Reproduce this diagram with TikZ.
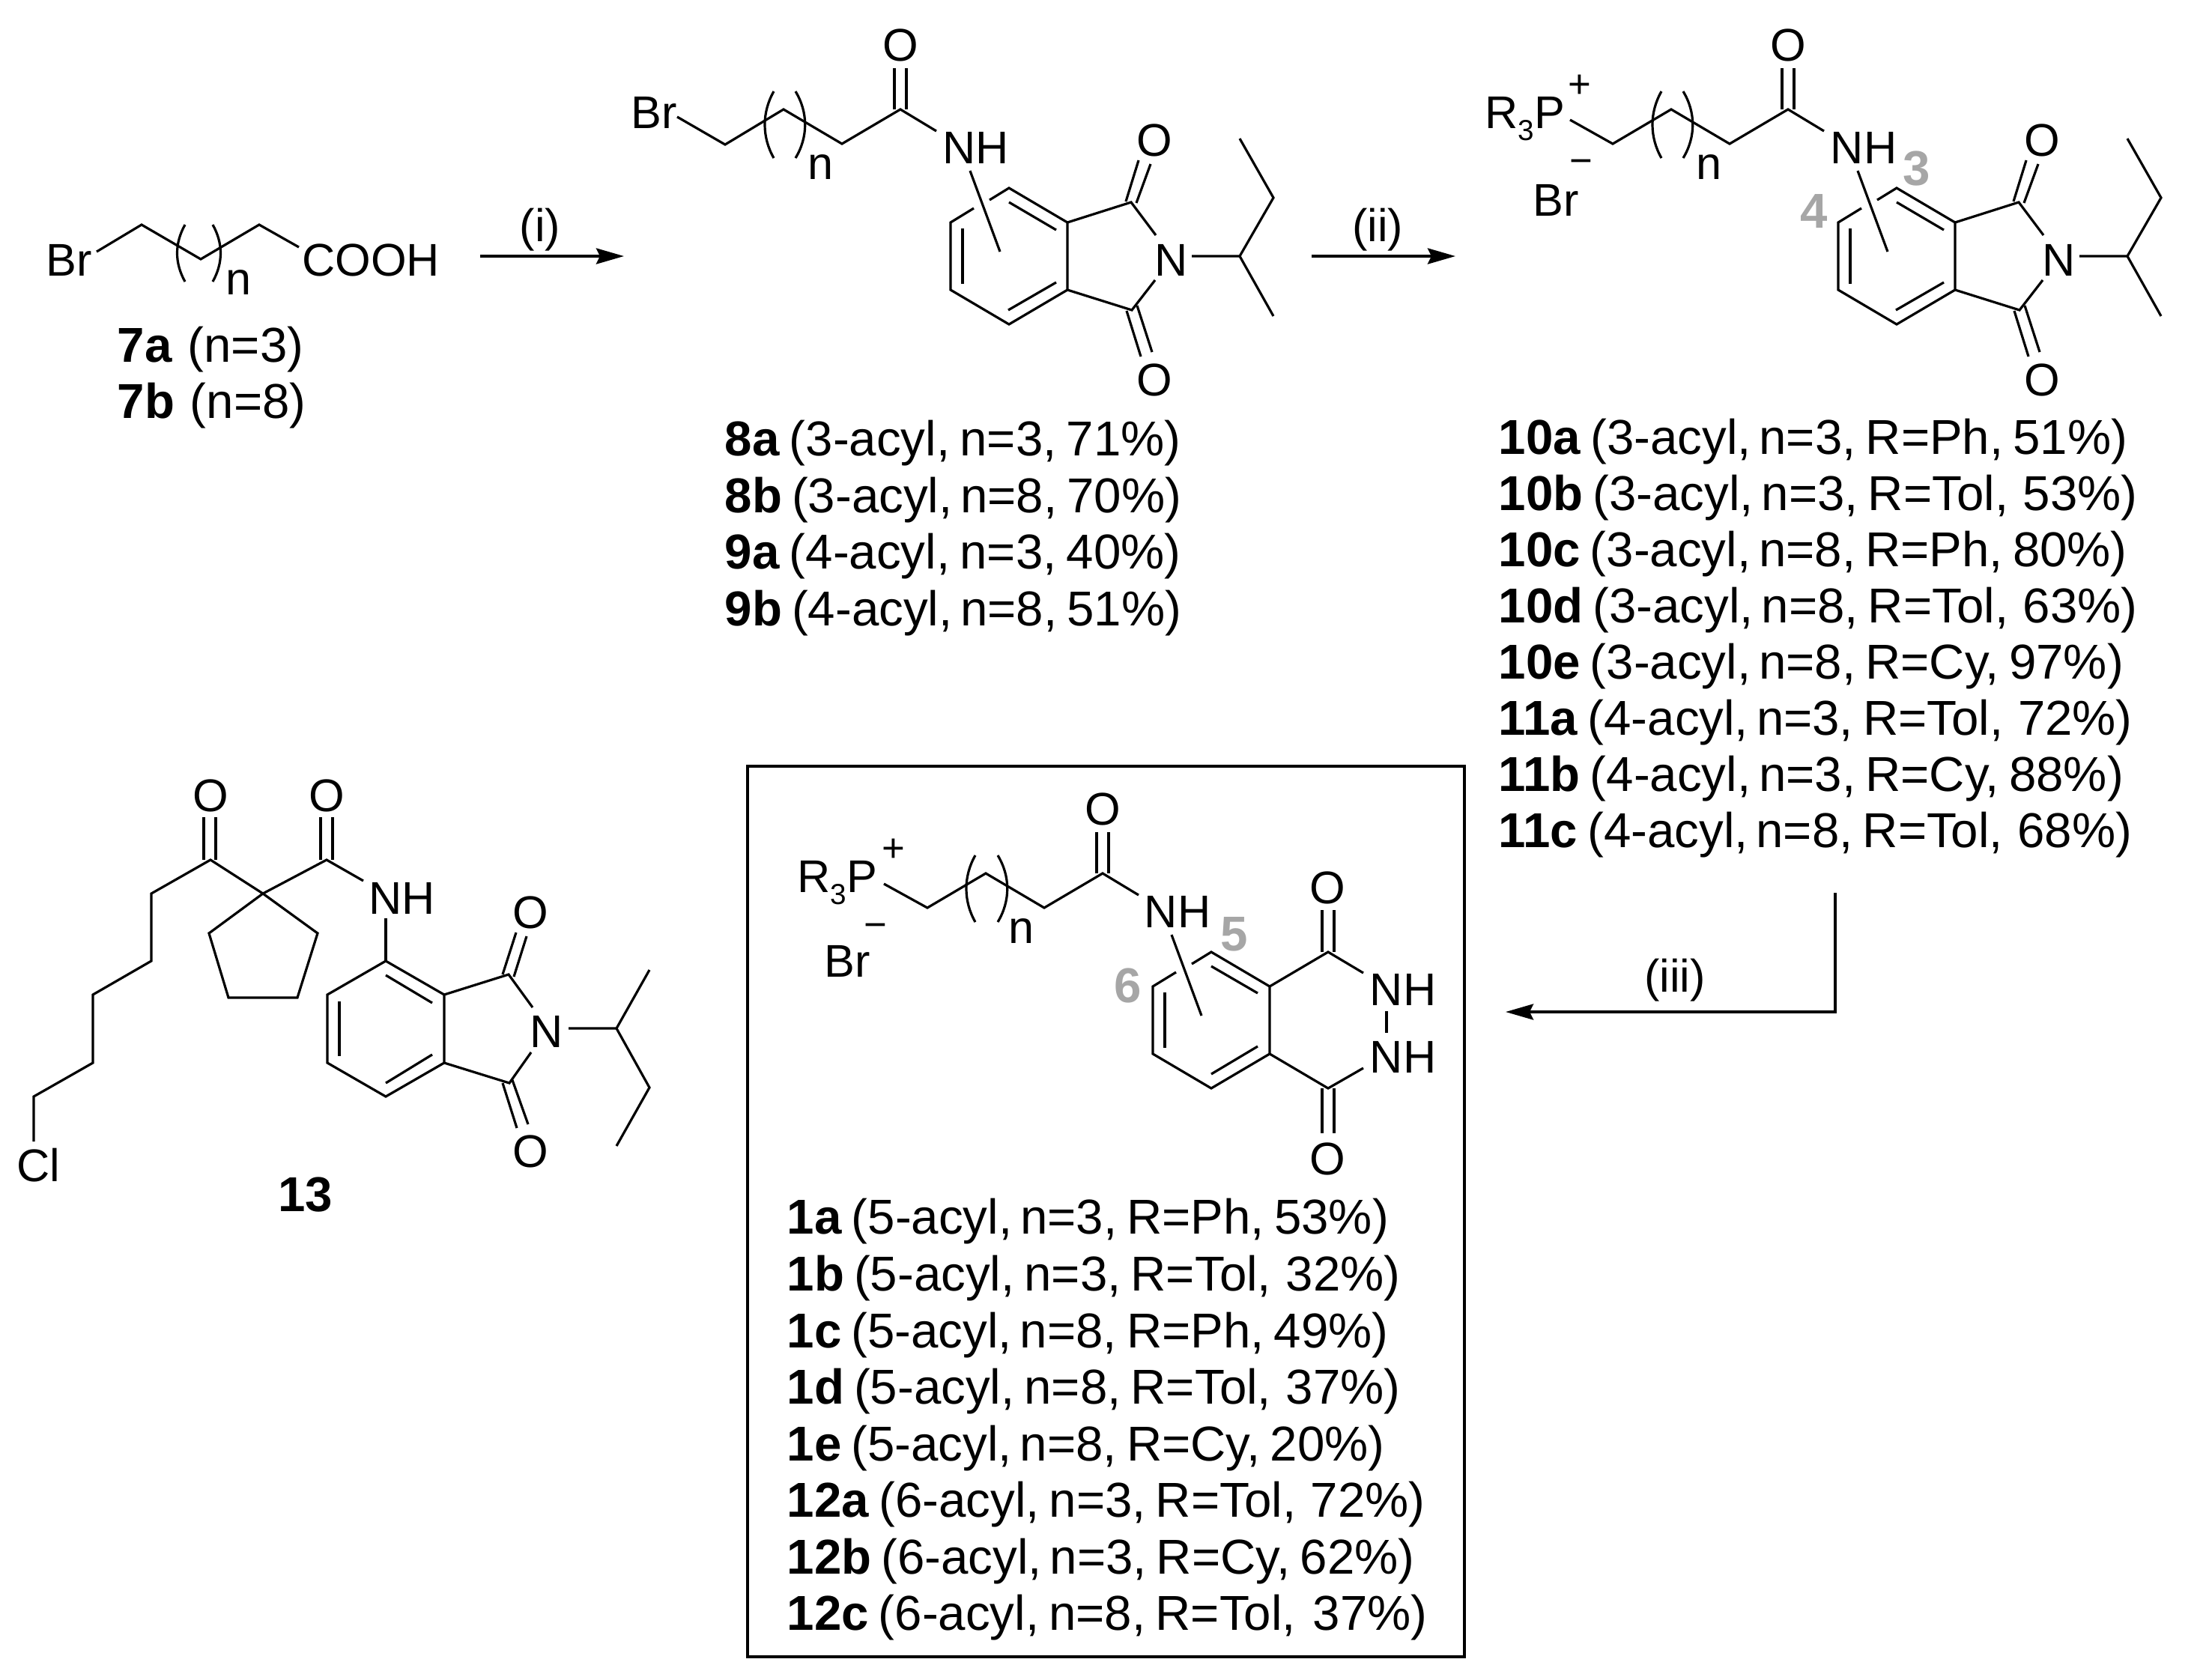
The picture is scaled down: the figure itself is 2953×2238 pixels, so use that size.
\documentclass[tikz,border=0pt]{standalone}
\usepackage{fontspec}
\setmainfont{Liberation Sans}
\usetikzlibrary{arrows.meta}
\usepackage{xcolor}
\definecolor{posgrey}{HTML}{A6A6A6}
\newcommand{\atomfont}{\fontsize{17.4}{19}\selectfont}
\newcommand{\chargefont}{\fontsize{15}{17}\selectfont}
\newcommand{\rowfont}{\fontsize{18.6}{21}\selectfont\spaceskip=0.2em\relax}
\newcommand{\phos}{R\raisebox{-0.16cm}{\fontsize{11}{11}\selectfont 3}P}
\tikzset{
    atom/.style={inner sep=0pt,font=\atomfont},
    charge/.style={inner sep=0pt,font=\chargefont},
    rowtext/.style={inner sep=0pt,anchor=base west,font=\rowfont},
    posnum/.style={inner sep=0pt,text=posgrey,font=\rowfont\bfseries},
    bond/.style={line width=0.032cm,line join=miter},
    rxn/.style={line width=0.04cm,-{Stealth[length=0.37cm,width=0.21cm,inset=0.05cm]}}
}

\begin{document}
\begin{tikzpicture}[x=0.01cm,y=-0.01cm]
    \useasboundingbox (0,0) rectangle (2953,2238);
    %Bromo acid
    \node[atom] (brSeven) at (92,347) {Br};
    \node[atom] (coohSeven) at (495,347) {COOH};
    \node[atom] (nSeven) at (319,377) {n};
    \draw[bond] (129,336) -- (189,300) -- (268,346) -- (346,300) -- (399,330);
    \draw[bond] (247,300) .. controls (233,325) and (233,351) .. (247,376);
    \draw[bond] (284,300) .. controls (298,325) and (298,351) .. (284,376);
    \node[rowtext] (rowSevenA) at (156,483) {\textbf{7a}\kern0.12em{} (n=3)};
    \node[rowtext] (rowSevenB) at (156,558) {\textbf{7b}\kern0.12em{} (n=8)};
    %Step i
    \coordinate (stepOneStart) at (641,342);
    \coordinate (stepOneEnd) at (833,342);
    \draw[rxn] (stepOneStart) -- (stepOneEnd);
    \node[atom,anchor=base] (stepOneText) at (721,322) {(i)};
    %Bromo amide
    \node[atom] (brEight) at (873,150) {Br};
    \node[atom] (oEightA) at (1202,60) {O};
    \node[atom] (nhEight) at (1303,197) {NH};
    \node[atom] (nEight) at (1096,223) {n};
    \node[atom] (oEightB) at (1541,187) {O};
    \node[atom] (nEightB) at (1564,347) {N};
    \node[atom] (oEightC) at (1541,507) {O};
    \draw[bond] (904,156) -- (968,193) -- (1046,146) -- (1124,192) -- (1202,146) -- (1250,175);
    \draw[bond] (1033,122) .. controls (1017,150) and (1017,183) .. (1033,211);
    \draw[bond] (1062,122) .. controls (1079,150) and (1079,183) .. (1062,211);
    \draw[bond] (1194,146) -- (1194,91);
    \draw[bond] (1210,146) -- (1210,91);
    \draw[bond] (1295,228) -- (1335,336);
    \draw[bond] (1300,278) -- (1269,297) -- (1269,387) -- (1347,433) -- (1425,387) -- (1425,297) -- (1347,251) -- (1321,267);
    \draw[bond] (1347,270) -- (1410,307);
    \draw[bond] (1285,305) -- (1285,379);
    \draw[bond] (1346,414) -- (1410,377);
    \draw[bond] (1425,297) -- (1510,270) -- (1543,314);
    \draw[bond] (1425,387) -- (1511,414) -- (1542,374);
    \draw[bond] (1503,269) -- (1520,214);
    \draw[bond] (1517,271) -- (1536,219);
    \draw[bond] (1504,415) -- (1523,476);
    \draw[bond] (1518,408) -- (1538,470);
    \draw[bond] (1591,342) -- (1655,342) -- (1700,264) -- (1655,185);
    \draw[bond] (1655,342) -- (1700,422);
    \node[rowtext] (rowEightA) at (967,608) {\textbf{8a} (3-acyl, n=3, 71\%)};
    \node[rowtext] (rowEightB) at (967,684) {\textbf{8b} (3-acyl,\,n=8, 70\%)};
    \node[rowtext] (rowNineA) at (967,759) {\textbf{9a} (4-acyl, n=3, 40\%)};
    \node[rowtext] (rowNineB) at (967,835) {\textbf{9b} (4-acyl,\,n=8, 51\%)};
    %Step ii
    \coordinate (stepTwoStart) at (1751,342);
    \coordinate (stepTwoEnd) at (1943,342);
    \draw[rxn] (stepTwoStart) -- (stepTwoEnd);
    \node[atom,anchor=base] (stepTwoText) at (1839,322) {(ii)};
    %Phosphonium salt
    \node[atom,anchor=base west] (pTen) at (1982,171) {\phos};
    \node[charge] (plusTen) at (2109,115) {+};
    \node[charge] (minusTen) at (2111,223) {−};
    \node[atom] (brTen) at (2077,267) {Br};
    \node[atom] (oTenA) at (2387,60) {O};
    \node[atom] (nhTen) at (2488,197) {NH};
    \node[atom] (nTen) at (2281,223) {n};
    \node[atom] (oTenB) at (2726,187) {O};
    \node[atom] (nTenB) at (2749,347) {N};
    \node[atom] (oTenC) at (2726,507) {O};
    \node[posnum] (posThree) at (2559,225) {3};
    \node[posnum] (posFour) at (2422,282) {4};
    \draw[bond] (2096,160) -- (2153,192) -- (2231,146) -- (2309,192) -- (2387,146) -- (2435,175);
    \draw[bond] (2218,122) .. controls (2202,150) and (2202,183) .. (2218,211);
    \draw[bond] (2247,122) .. controls (2264,150) and (2264,183) .. (2247,211);
    \draw[bond] (2379,146) -- (2379,91);
    \draw[bond] (2395,146) -- (2395,91);
    \draw[bond] (2480,228) -- (2520,336);
    \draw[bond] (2485,278) -- (2454,297) -- (2454,387) -- (2532,433) -- (2610,387) -- (2610,297) -- (2532,251) -- (2506,267);
    \draw[bond] (2532,270) -- (2595,307);
    \draw[bond] (2470,305) -- (2470,379);
    \draw[bond] (2531,414) -- (2595,377);
    \draw[bond] (2610,297) -- (2695,270) -- (2728,314);
    \draw[bond] (2610,387) -- (2696,414) -- (2727,374);
    \draw[bond] (2688,269) -- (2705,214);
    \draw[bond] (2702,271) -- (2721,219);
    \draw[bond] (2689,415) -- (2708,476);
    \draw[bond] (2703,408) -- (2723,470);
    \draw[bond] (2776,342) -- (2840,342) -- (2885,264) -- (2840,185);
    \draw[bond] (2840,342) -- (2885,422);
    \node[rowtext] (rowTenA) at (2000,606) {\textbf{10a} (3-acyl,\,n=3, R=Ph, 51\%)};
    \node[rowtext] (rowTenB) at (2000,681) {\textbf{10b} (3-acyl,\,n=3, R=Tol,\kern0.1em{} 53\%)};
    \node[rowtext] (rowTenC) at (2000,756) {\textbf{10c} (3-acyl,\,n=8, R=Ph, 80\%)};
    \node[rowtext] (rowTenD) at (2000,831) {\textbf{10d} (3-acyl,\,n=8, R=Tol,\kern0.1em{} 63\%)};
    \node[rowtext] (rowTenE) at (2000,906) {\textbf{10e} (3-acyl,\,n=8, R=Cy, 97\%)};
    \node[rowtext] (rowElevenA) at (2000,981) {\textbf{11a} (4-acyl,\,n=3, R=Tol,\kern0.1em{} 72\%)};
    \node[rowtext] (rowElevenB) at (2000,1056) {\textbf{11b} (4-acyl,\,n=3, R=Cy, 88\%)};
    \node[rowtext] (rowElevenC) at (2000,1131) {\textbf{11c} (4-acyl,\,n=8, R=Tol,\kern0.1em{} 68\%)};
    %Step iii
    \coordinate (stepThreeStart) at (2450,1192);
    \coordinate (stepThreeBend) at (2450,1351);
    \coordinate (stepThreeEnd) at (2010,1351);
    \draw[rxn] (stepThreeStart) -- (stepThreeBend) -- (stepThreeEnd);
    \node[atom,anchor=base] (stepThreeText) at (2236,1324) {(iii)};
    %Cyclopentane side product
    \node[atom] (oThirteenA) at (281,1062) {O};
    \node[atom] (oThirteenB) at (436,1062) {O};
    \node[atom] (clThirteen) at (51,1556) {Cl};
    \node[atom] (nhThirteen) at (537,1199) {NH};
    \node[atom] (oThirteenC) at (708,1218) {O};
    \node[atom] (nThirteen) at (730,1377) {N};
    \node[atom] (oThirteenD) at (708,1537) {O};
    \node[rowtext,anchor=base] (nameThirteen) at (408,1617) {\textbf{13}};
    \draw[bond] (45,1524) -- (45,1464) -- (124,1419) -- (124,1328) -- (202,1283) -- (202,1193) -- (281,1148) -- (351,1193) -- (436,1148) -- (485,1176);
    \draw[bond] (272,1148) -- (272,1091);
    \draw[bond] (288,1148) -- (288,1091);
    \draw[bond] (428,1148) -- (428,1091);
    \draw[bond] (444,1148) -- (444,1091);
    \draw[bond] (351,1193) -- (424,1246) -- (397,1332) -- (305,1332) -- (279,1246) -- cycle;
    \draw[bond] (515,1226) -- (515,1283);
    \draw[bond] (515,1283) -- (593,1328) -- (593,1419) -- (515,1464) -- (437,1419) -- (437,1328) -- cycle;
    \draw[bond] (515,1302) -- (577,1339);
    \draw[bond] (453,1337) -- (453,1410);
    \draw[bond] (515,1446) -- (577,1408);
    \draw[bond] (593,1328) -- (679,1301) -- (711,1345);
    \draw[bond] (593,1419) -- (680,1446) -- (709,1405);
    \draw[bond] (671,1301) -- (689,1245);
    \draw[bond] (686,1304) -- (703,1250);
    \draw[bond] (671,1446) -- (690,1506);
    \draw[bond] (684,1442) -- (705,1501);
    \draw[bond] (759,1373) -- (823,1373) -- (867,1295);
    \draw[bond] (823,1373) -- (867,1452) -- (823,1530);
    %Boxed products
    \draw[line width=0.036cm] (998,1023) rectangle (1955,2212);
    \node[atom,anchor=base west] (pOne) at (1064,1191) {\phos};
    \node[charge] (plusOne) at (1193,1135) {+};
    \node[charge] (minusOne) at (1169,1243) {−};
    \node[atom] (brOne) at (1131,1283) {Br};
    \node[atom] (oOneA) at (1472,1080) {O};
    \node[atom] (nhOne) at (1572,1217) {NH};
    \node[atom] (nOne) at (1364,1243) {n};
    \node[atom] (oOneB) at (1772,1185) {O};
    \node[atom] (nhOneB) at (1873,1321) {NH};
    \node[atom] (nhOneC) at (1873,1411) {NH};
    \node[atom] (oOneC) at (1772,1547) {O};
    \node[posnum] (posFive) at (1648,1247) {5};
    \node[posnum] (posSix) at (1506,1316) {6};
    \draw[bond] (1180,1180) -- (1238,1212) -- (1316,1166) -- (1394,1212) -- (1472,1166) -- (1520,1195);
    \draw[bond] (1302,1142) .. controls (1286,1170) and (1286,1203) .. (1302,1231);
    \draw[bond] (1332,1142) .. controls (1349,1170) and (1349,1203) .. (1332,1231);
    \draw[bond] (1464,1166) -- (1464,1111);
    \draw[bond] (1480,1166) -- (1480,1111);
    \draw[bond] (1564,1248) -- (1604,1356);
    \draw[bond] (1570,1298) -- (1539,1317) -- (1539,1407) -- (1617,1453) -- (1695,1407) -- (1695,1317) -- (1617,1271) -- (1591,1287);
    \draw[bond] (1617,1290) -- (1679,1326);
    \draw[bond] (1555,1325) -- (1555,1399);
    \draw[bond] (1617,1434) -- (1679,1397);
    \draw[bond] (1695,1317) -- (1773,1271) -- (1820,1299);
    \draw[bond] (1695,1407) -- (1773,1453) -- (1820,1426);
    \draw[bond] (1765,1271) -- (1765,1215);
    \draw[bond] (1781,1271) -- (1781,1215);
    \draw[bond] (1765,1453) -- (1765,1513);
    \draw[bond] (1781,1453) -- (1781,1513);
    \draw[bond] (1851,1350) -- (1851,1379);
    \node[rowtext] (rowOneA) at (1050,1647) {\textbf{1a} (5-acyl,\,n=3, R=Ph, 53\%)};
    \node[rowtext] (rowOneB) at (1050,1723) {\textbf{1b} (5-acyl, n=3, R=Tol,\kern0.1em{} 32\%)};
    \node[rowtext] (rowOneC) at (1050,1799) {\textbf{1c} (5-acyl,\,n=8, R=Ph, 49\%)};
    \node[rowtext] (rowOneD) at (1050,1874) {\textbf{1d} (5-acyl, n=8, R=Tol,\kern0.1em{} 37\%)};
    \node[rowtext] (rowOneE) at (1050,1950) {\textbf{1e} (5-acyl,\,n=8, R=Cy, 20\%)};
    \node[rowtext] (rowTwelveA) at (1050,2025) {\textbf{12a} (6-acyl, n=3, R=Tol,\kern0.1em{} 72\%)};
    \node[rowtext] (rowTwelveB) at (1050,2101) {\textbf{12b} (6-acyl,\,n=3, R=Cy, 62\%)};
    \node[rowtext] (rowTwelveC) at (1050,2176) {\textbf{12c} (6-acyl, n=8, R=Tol,\kern0.15em{} 37\%)};
\end{tikzpicture}
\end{document}
